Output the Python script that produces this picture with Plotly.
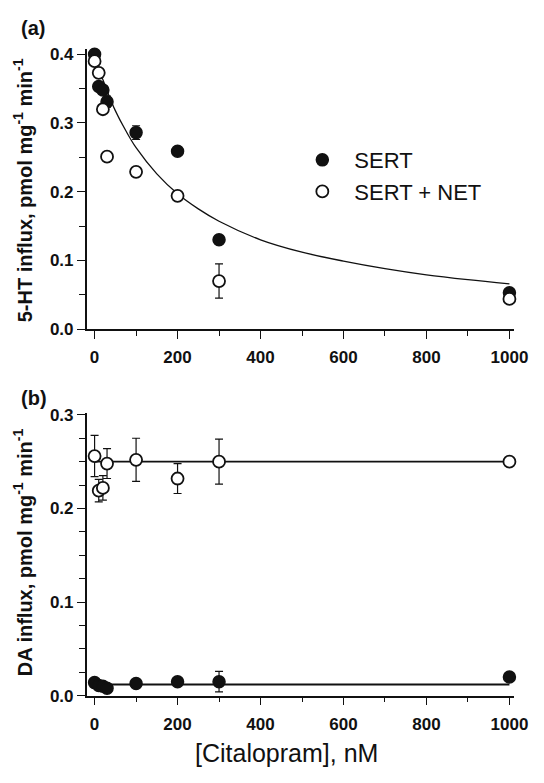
import plotly.graph_objects as go

# ---------------- data ----------------
conc = [0, 10, 20, 30, 100, 200, 300, 1000]

# panel (a): 5-HT influx
a_sert = [0.400, 0.353, 0.348, 0.331, 0.286, 0.259, 0.130, 0.053]
a_sert_err = [0.004, 0.006, 0.006, 0.008, 0.010, 0.006, 0.006, 0.004]
a_sertnet = [0.390, 0.373, 0.320, 0.251, 0.229, 0.194, 0.070, 0.044]
a_sertnet_err = [0.003, 0.004, 0.004, 0.004, 0.004, 0.004, 0.025, 0.003]

a_fit_x = [0, 10, 20, 30, 50, 75, 100, 150, 200, 250, 300, 400, 500, 600, 700, 800, 900, 1000]
a_fit_y = [0.400, 0.380, 0.363, 0.347, 0.318, 0.289, 0.264, 0.226, 0.197, 0.175, 0.157,
           0.130, 0.112, 0.099, 0.088, 0.079, 0.072, 0.066]

# panel (b): DA influx
b_sert = [0.014, 0.011, 0.010, 0.008, 0.013, 0.015, 0.015, 0.020]
b_sert_err = [0.002, 0.002, 0.002, 0.002, 0.002, 0.002, 0.011, 0.002]
b_sertnet = [0.256, 0.219, 0.222, 0.248, 0.252, 0.232, 0.250, 0.250]
b_sertnet_err = [0.022, 0.012, 0.013, 0.016, 0.023, 0.016, 0.024, 0.002]

b_fit_x = [0, 1000]
b_fit_sert = [0.012, 0.012]
b_fit_sertnet = [0.250, 0.250]

a_yticks = [0.0, 0.1, 0.2, 0.3, 0.4]
b_yticks = [0.0, 0.1, 0.2, 0.3]
xticks = [0, 200, 400, 600, 800, 1000]

# ---------------- figure ----------------
W, H = 544, 783
FONT = "Arial, Liberation Sans, sans-serif"
BLACK = "#111111"

fig = go.Figure()

filled = dict(symbol="circle", size=12, color=BLACK, line=dict(color=BLACK, width=1.5))
opened = dict(symbol="circle", size=12, color="white", line=dict(color=BLACK, width=1.8))
err = lambda arr: dict(type="data", array=arr, visible=True, color=BLACK, thickness=1.2, width=4)

# panel a
fig.add_trace(go.Scatter(x=a_fit_x, y=a_fit_y, mode="lines", line=dict(color=BLACK, width=1.3, shape="spline"),
                         showlegend=False, xaxis="x", yaxis="y", hoverinfo="skip"))
fig.add_trace(go.Scatter(x=conc, y=a_sert, mode="markers", name="SERT", marker=filled,
                         error_y=err(a_sert_err), xaxis="x", yaxis="y", cliponaxis=False))
fig.add_trace(go.Scatter(x=conc, y=a_sertnet, mode="markers", name="SERT + NET", marker=opened,
                         error_y=err(a_sertnet_err), xaxis="x", yaxis="y", cliponaxis=False))

# panel b
fig.add_trace(go.Scatter(x=b_fit_x, y=b_fit_sertnet, mode="lines", line=dict(color=BLACK, width=1.8),
                         showlegend=False, xaxis="x2", yaxis="y2"))
fig.add_trace(go.Scatter(x=b_fit_x, y=b_fit_sert, mode="lines", line=dict(color=BLACK, width=1.8),
                         showlegend=False, xaxis="x2", yaxis="y2"))
fig.add_trace(go.Scatter(x=conc, y=b_sertnet, mode="markers", marker=opened, showlegend=False,
                         error_y=err(b_sertnet_err), xaxis="x2", yaxis="y2", cliponaxis=False))
fig.add_trace(go.Scatter(x=conc, y=b_sert, mode="markers", marker=filled, showlegend=False,
                         error_y=err(b_sert_err), xaxis="x2", yaxis="y2", cliponaxis=False))

xdom = [89 / W, 528 / W]
ya_dom = [1 - 329.3 / H, 1 - 42.7 / H]
yb_dom = [1 - 704 / H, 1 - 415 / H]

tickfont = dict(family=FONT, size=17, color=BLACK, weight=700)

def xax(anchor):
    return dict(domain=xdom, anchor=anchor, range=[-19, 1012], tickmode="array", tickvals=xticks,
                ticks="outside", ticklen=8, tickwidth=1.3, tickcolor=BLACK,
                showline=True, linecolor=BLACK, linewidth=1.5, showgrid=False, zeroline=False,
                tickfont=tickfont, ticklabelstandoff=4,
                minor=dict(dtick=100, tick0=0, ticks="outside", ticklen=5, tickwidth=1.2,
                           tickcolor=BLACK, showgrid=False))

def yax(anchor, dom, rng, tv, mdt):
    return dict(domain=dom, anchor=anchor, range=rng, tickmode="array", tickvals=tv,
                tickformat=".1f", ticks="outside", ticklen=8, tickwidth=1.3, tickcolor=BLACK,
                showline=True, linecolor=BLACK, linewidth=1.5, showgrid=False, zeroline=False,
                tickfont=tickfont,
                minor=dict(dtick=mdt, tick0=0, ticks="outside", ticklen=6, tickwidth=1.2,
                           tickcolor=BLACK, showgrid=False))

fig.update_layout(
    width=W, height=H,
    margin=dict(l=0, r=0, t=0, b=0),
    paper_bgcolor="white", plot_bgcolor="white",
    font=dict(family=FONT, color=BLACK),
    xaxis=xax("y"),
    yaxis=yax("x", ya_dom, [0, 0.408], a_yticks, 0.05),
    xaxis2=xax("y2"),
    yaxis2=yax("x2", yb_dom, [0, 0.302], b_yticks, 0.025),
    showlegend=True,
    legend=dict(x=298 / W, y=1 - 135 / H, xanchor="left", yanchor="top",
                font=dict(family=FONT, size=22, color=BLACK),
                itemwidth=54, tracegroupgap=0, bgcolor="rgba(0,0,0,0)"),
    annotations=[
        dict(text="(a)", x=20 / W, y=1 - 21 / H, xref="paper", yref="paper", xanchor="left",
             yanchor="middle", showarrow=False, font=dict(family=FONT, size=20, weight=700)),
        dict(text="(b)", x=20 / W, y=1 - 400 / H, xref="paper", yref="paper", xanchor="left",
             yanchor="middle", showarrow=False, font=dict(family=FONT, size=20, weight=700)),
        dict(text="5-HT influx, pmol mg<sup>-1</sup> min<sup>-1</sup>", x=24 / W, y=1 - 187 / H,
             xref="paper", yref="paper", xanchor="center", yanchor="middle", textangle=-90,
             showarrow=False, font=dict(family=FONT, size=20, weight=700)),
        dict(text="DA influx, pmol mg<sup>-1</sup> min<sup>-1</sup>", x=24 / W, y=1 - 557 / H,
             xref="paper", yref="paper", xanchor="center", yanchor="middle", textangle=-90,
             showarrow=False, font=dict(family=FONT, size=20, weight=700)),
        dict(text="[Citalopram], nM", x=294 / W, y=1 - 763 / H, xref="paper", yref="paper",
             xanchor="center", yanchor="middle", showarrow=False,
             font=dict(family=FONT, size=25)),
    ],
)

fig.write_html("out.html", config={"displayModeBar": False},
               post_script="document.body.style.margin='0px';")
